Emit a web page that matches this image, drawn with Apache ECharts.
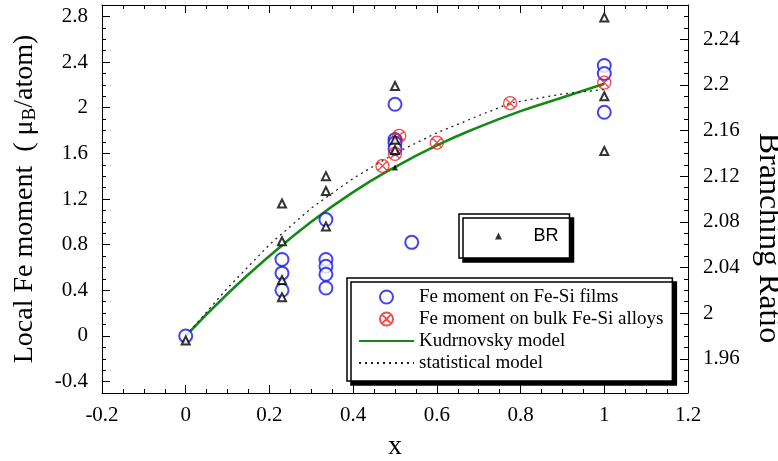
<!DOCTYPE html>
<html>
<head>
<meta charset="utf-8">
<script src="https://cdn.jsdelivr.net/npm/echarts@6/dist/echarts.min.js"></script>
<style>
  html, body { margin: 0; padding: 0; background: #fff; }
  #chart { width: 778px; height: 461px; }
</style>
</head>
<body>
<div id="chart"></div>
<script>
// Fe moment measured on Fe-Si films
const filmX = [0, 0.23, 0.23, 0.23, 0.335, 0.335, 0.335, 0.335, 0.335, 0.5, 0.5, 0.5, 0.5, 0.54, 1.0, 1.0, 1.0];
const filmY = [0, 0.67, 0.55, 0.40, 1.02, 0.67, 0.61, 0.54, 0.42, 2.03, 1.72, 1.69, 1.64, 0.82, 2.37, 2.30, 1.96];

// Fe moment on bulk Fe-Si alloys
const bulkX = [0.47, 0.5, 0.51, 0.6, 0.775, 1.0];
const bulkY = [1.49, 1.595, 1.753, 1.694, 2.04, 2.22];

// Kudrnovsky model curve
const kudX = [0, 0.1, 0.2, 0.3, 0.4, 0.5, 0.6, 0.7, 0.8, 0.9, 1.0];
const kudY = [0, 0.37, 0.70, 1.00, 1.26, 1.48, 1.67, 1.83, 1.97, 2.09, 2.21];

// statistical model curve
const statX = [0, 0.1, 0.2, 0.3, 0.4, 0.5, 0.6, 0.7, 0.775, 0.9, 1.0];
const statY = [0, 0.42, 0.80, 1.12, 1.38, 1.60, 1.78, 1.93, 2.04, 2.12, 2.16];

// branching ratio (right axis)
const brX = [0, 0.23, 0.23, 0.23, 0.23, 0.335, 0.335, 0.335, 0.5, 0.5, 0.5, 1.0, 1.0, 1.0];
const brY = [1.976, 2.096, 2.063, 2.029, 2.014, 2.120, 2.107, 2.076, 2.199, 2.152, 2.143, 2.259, 2.190, 2.142];
const brModelX = [0.5];
const brModelY = [2.1275];

// axis ticks
const momentTicks = [-0.4, 0, 0.4, 0.8, 1.2, 1.6, 2, 2.4, 2.8];
const brTicks = [1.96, 2, 2.04, 2.08, 2.12, 2.16, 2.2, 2.24];
const momentRange = [-0.5, 2.9];
const brRange = [1.93, 2.27];

function stepTicks(lo, hi, step) {
  const out = [];
  const n = Math.round((hi - lo) / step);
  for (let i = 0; i <= n; i++) out.push(Math.round((lo + i * step) * 1000) / 1000);
  return out;
}
const momentMinor = stepTicks(momentRange[0], momentRange[1], 0.1);
const brMinor = stepTicks(brRange[0], brRange[1], 0.01);

const zip = (xs, ys) => xs.map((x, i) => [x, ys[i]]);

const serif = 'Liberation Serif';
const crossCircle = 'path://M0,-10A10,10 0 1,1 0,10A10,10 0 1,1 0,-10Z M-7.07,-7.07L7.07,7.07 M7.07,-7.07L-7.07,7.07';
const smallTriangle = 'path://M0,-1L1,1L-1,1Z';
const noFill = 'rgba(0,0,0,0)';

const chart = echarts.init(document.getElementById('chart'), null, { renderer: 'canvas' });

function labelStyle(extra) {
  return Object.assign({ fontFamily: serif, fontSize: 21, color: '#000' }, extra);
}
const frameLine = { onZero: false, lineStyle: { color: '#000', width: 1 } };
const hiddenLine = { show: false, onZero: false };

chart.setOption({
  backgroundColor: '#fff',
  animation: false,
  grid: { left: 102, right: 90, top: 5, bottom: 68, outerBoundsMode: 'none', containLabel: false },
  xAxis: [
    {
      type: 'value', position: 'bottom', min: -0.2, max: 1.2, interval: 0.2,
      name: 'x', nameLocation: 'middle', nameGap: 40,
      nameTextStyle: { fontFamily: serif, fontSize: 28, color: '#000' },
      axisLine: frameLine,
      axisTick: { inside: true, length: 8, lineStyle: { color: '#000' } },
      minorTick: { show: true, splitNumber: 4, length: 4, lineStyle: { color: '#000' } },
      axisLabel: labelStyle({ margin: 12 }),
      splitLine: { show: false }
    },
    {
      type: 'value', position: 'top', min: -0.2, max: 1.2, interval: 0.2,
      axisLine: frameLine,
      axisTick: { inside: true, length: 8, lineStyle: { color: '#000' } },
      minorTick: { show: true, splitNumber: 4, length: 4, lineStyle: { color: '#000' } },
      axisLabel: { show: false },
      splitLine: { show: false }
    }
  ],
  yAxis: [
    {
      type: 'value', position: 'left', min: momentRange[0], max: momentRange[1],
      name: '{a|Local Fe moment  ( \u03bc}{s|B}{a|/atom)}',
      nameLocation: 'middle', nameGap: 62, nameRotate: 90,
      nameTextStyle: {
        color: '#000',
        rich: {
          a: { fontFamily: serif, fontSize: 28, lineHeight: 30, color: '#000' },
          s: { fontFamily: serif, fontSize: 19, lineHeight: 14, verticalAlign: 'bottom', color: '#000' }
        }
      },
      axisLine: frameLine,
      axisTick: { inside: true, length: 8, customValues: momentTicks, lineStyle: { color: '#000' } },
      axisLabel: labelStyle({ margin: 14, customValues: momentTicks }),
      splitLine: { show: false }
    },
    {
      type: 'value', position: 'left', min: momentRange[0], max: momentRange[1],
      axisLine: hiddenLine,
      axisTick: { inside: true, length: 4, customValues: momentMinor, lineStyle: { color: '#000' } },
      axisLabel: { show: false },
      splitLine: { show: false }
    },
    {
      type: 'value', position: 'right', min: brRange[0], max: brRange[1],
      name: 'Branching Ratio', nameLocation: 'middle', nameGap: 64, nameRotate: -90,
      nameTextStyle: { fontFamily: serif, fontSize: 32, color: '#000', padding: [0, 0, 0, 78] },
      axisLine: frameLine,
      axisTick: { inside: true, length: 8, customValues: brTicks, lineStyle: { color: '#000' } },
      axisLabel: labelStyle({ margin: 15, customValues: brTicks }),
      splitLine: { show: false }
    },
    {
      type: 'value', position: 'right', min: brRange[0], max: brRange[1],
      axisLine: hiddenLine,
      axisTick: { inside: true, length: 4, customValues: brMinor, lineStyle: { color: '#000' } },
      axisLabel: { show: false },
      splitLine: { show: false }
    }
  ],
  legend: [
    {
      orient: 'vertical', left: 347, top: 278,
      padding: [8, 9, 7, 11],
      itemWidth: 55, itemHeight: 13, itemGap: 0,
      backgroundColor: '#fff', borderColor: '#000', borderWidth: 1.5,
      shadowColor: '#000', shadowBlur: 0, shadowOffsetX: 4, shadowOffsetY: 4,
      textStyle: { fontFamily: serif, fontSize: 19, lineHeight: 22, color: '#000' },
      data: ['Fe moment on Fe-Si films', 'Fe moment on bulk Fe-Si alloys', 'Kudrnovsky model', 'statistical model']
    },
    {
      orient: 'vertical', left: 459, top: 214,
      padding: [11, 11, 11, 36],
      itemWidth: 60, itemHeight: 7, itemGap: 0,
      symbolKeepAspect: true,
      backgroundColor: '#fff', borderColor: '#000', borderWidth: 1.5,
      shadowColor: '#000', shadowBlur: 0, shadowOffsetX: 4, shadowOffsetY: 4,
      textStyle: { fontFamily: 'Liberation Sans', fontSize: 18, lineHeight: 22, color: '#000' },
      data: [{ name: 'BR', icon: smallTriangle, itemStyle: { color: '#000', borderWidth: 0 } }]
    }
  ],
  series: [
    {
      name: 'Kudrnovsky model', type: 'line', smooth: true, symbol: 'none',
      xAxisIndex: 0, yAxisIndex: 0,
      lineStyle: { color: '#138a13', width: 2.6 }, itemStyle: { color: noFill },
      data: zip(kudX, kudY), z: 2
    },
    {
      name: 'statistical model', type: 'line', smooth: false, symbol: 'none',
      xAxisIndex: 0, yAxisIndex: 0,
      lineStyle: { color: '#222', width: 1.3, type: [2, 4] }, itemStyle: { color: noFill },
      data: zip(statX, statY), z: 2
    },
    {
      name: 'Fe moment on Fe-Si films', type: 'scatter', symbol: 'emptyCircle', symbolSize: 13,
      xAxisIndex: 0, yAxisIndex: 0,
      itemStyle: { color: '#1414f0', borderColor: '#1414f0', borderWidth: 2.6 },
      data: zip(filmX, filmY), z: 3
    },
    {
      name: 'Fe moment on bulk Fe-Si alloys', type: 'scatter', symbol: crossCircle, symbolSize: 13,
      xAxisIndex: 0, yAxisIndex: 0,
      itemStyle: { color: noFill, borderColor: '#f21d1d', borderWidth: 1.3 },
      data: zip(bulkX, bulkY), z: 4
    },
    {
      name: 'BR', type: 'scatter', symbol: 'emptyTriangle', symbolSize: [8, 8],
      xAxisIndex: 0, yAxisIndex: 2,
      itemStyle: { color: '#000', borderColor: '#000', borderWidth: 1.4 },
      data: zip(brX, brY), z: 5
    },
    {
      name: 'BR model point', type: 'scatter', symbol: 'triangle', symbolSize: [6, 6],
      xAxisIndex: 0, yAxisIndex: 2,
      itemStyle: { color: '#000' },
      data: zip(brModelX, brModelY), z: 5
    }
  ]
});
</script>
</body>
</html>
